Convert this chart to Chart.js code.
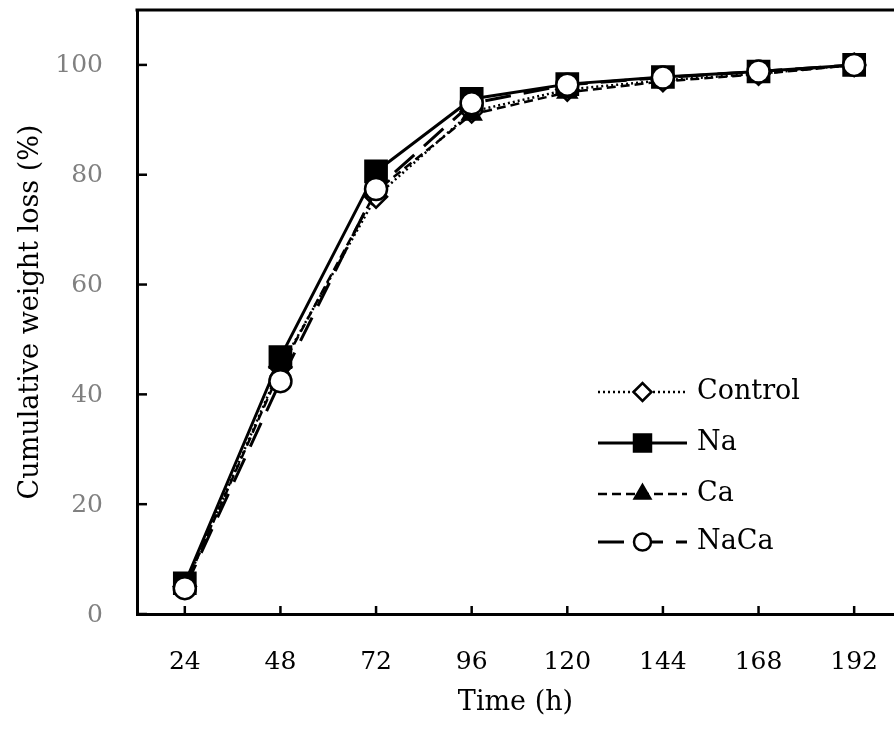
<!DOCTYPE html>
<html><head><meta charset="utf-8">
<script src="https://cdn.jsdelivr.net/npm/chart.js@4.4.1/dist/chart.umd.min.js"></script>
<style>html,body{margin:0;padding:0;background:#fff;overflow:hidden}canvas{display:block}</style>
</head><body>
<canvas id="c" width="894" height="729"></canvas>
<script>
const timeTicks = [24, 48, 72, 96, 120, 144, 168, 192];
const yTicks = [0, 20, 40, 60, 80, 100];
const seriesNames = ['Control', 'Na', 'Ca', 'NaCa'];
const control = [5.0, 45.0, 76.0, 91.5, 95.5, 97.2, 98.4, 100];
const na      = [5.6, 46.8, 80.6, 93.8, 96.5, 97.8, 98.8, 100];
const ca      = [5.0, 44.5, 77.0, 91.0, 95.0, 97.0, 98.3, 100];
const naca    = [4.7, 42.4, 77.4, 93.0, 96.4, 97.7, 98.8, 100];
const xTitle = 'Time (h)';
const yTitle = 'Cumulative weight loss (%)';

const FONT = 'DejaVu Serif';
const styles = [
  {pointStyle: 'rectRot', fill: '#fff', radius: 11, lradius: 9, dash: [2, 3], lw: 2.5, order: 4},
  {pointStyle: 'rect', fill: '#000', radius: 15, lradius: 12, dash: [], lw: 3, order: 3},
  {pointStyle: 'triangle', fill: '#000', radius: 10.5, lradius: 9, dash: [9, 5], lw: 2.5, order: 2},
  {pointStyle: 'circle', fill: '#fff', radius: 11, lradius: 8.5, dash: [26, 13], lw: 3, order: 1}
];
const allSeries = [control, na, ca, naca];

const datasets = allSeries.map((arr, i) => ({
  label: seriesNames[i],
  data: arr.map((v, j) => ({x: timeTicks[j], y: v})),
  borderColor: '#000',
  borderWidth: styles[i].lw,
  borderDash: styles[i].dash,
  pointStyle: styles[i].pointStyle,
  pointRadius: styles[i].radius,
  pointHoverRadius: styles[i].radius,
  pointBackgroundColor: styles[i].fill,
  pointBorderColor: '#000',
  pointBorderWidth: 2.5,
  tension: 0,
  fill: false,
  clip: false,
  order: styles[i].order
}));

const framePlugin = {
  id: 'frame',
  beforeDatasetsDraw(chart) {
    const {ctx, chartArea: a, scales: {x, y}} = chart;
    ctx.save();
    ctx.strokeStyle = '#000';
    ctx.lineWidth = 3;
    ctx.beginPath();
    ctx.moveTo(a.left - 1.5, a.top);
    ctx.lineTo(a.right + 2, a.top);
    ctx.stroke();
    ctx.lineWidth = 2.5;
    yTicks.forEach(v => {
      const py = y.getPixelForValue(v);
      ctx.beginPath(); ctx.moveTo(a.left, py); ctx.lineTo(a.left + 10, py); ctx.stroke();
    });
    timeTicks.forEach(v => {
      const px = x.getPixelForValue(v);
      ctx.beginPath(); ctx.moveTo(px, a.bottom); ctx.lineTo(px, a.bottom - 8); ctx.stroke();
    });
    // tick labels, positioned by the scales
    ctx.font = '25px "' + FONT + '"';
    ctx.textBaseline = 'middle';
    ctx.fillStyle = '#000';
    ctx.textAlign = 'center';
    timeTicks.forEach(v => {
      ctx.fillText(String(v), x.getPixelForValue(v), a.bottom + 48);
    });
    ctx.fillStyle = '#808080';
    ctx.textAlign = 'right';
    yTicks.forEach(v => {
      ctx.fillText(String(v), a.left - 34, y.getPixelForValue(v) + 1);
    });
    ctx.restore();
  }
};

const legendPlugin = {
  id: 'customLegend',
  afterDraw(chart) {
    const {ctx} = chart;
    const rows = [392, 443, 494, 542];
    const x0 = 598, x1 = 687, tx = 697;
    ctx.save();
    chart.data.datasets.forEach((ds, i) => {
      const st = styles[i];
      const yy = rows[i];
      ctx.strokeStyle = '#000';
      ctx.lineWidth = st.lw;
      ctx.setLineDash(st.dash);
      ctx.beginPath(); ctx.moveTo(x0, yy); ctx.lineTo(x1, yy); ctx.stroke();
      ctx.setLineDash([]);
      ctx.fillStyle = st.fill;
      ctx.strokeStyle = '#000';
      ctx.lineWidth = 2.5;
      Chart.helpers.drawPoint(ctx, {pointStyle: st.pointStyle, radius: st.lradius, borderWidth: 2.5, rotation: 0}, (x0 + x1) / 2, yy);
      ctx.fillStyle = '#000';
      ctx.font = '27px "' + FONT + '"';
      ctx.textAlign = 'left';
      ctx.textBaseline = 'middle';
      ctx.fillText(ds.label, tx, yy);
    });
    ctx.restore();
  }
};

new Chart(document.getElementById('c'), {
  type: 'line',
  data: {datasets},
  options: {
    responsive: false,
    animation: false,
    events: [],
    layout: {autoPadding: false, padding: {top: 10, left: 0, right: 0, bottom: 0}},
    plugins: {legend: {display: false}, tooltip: {enabled: false}},
    scales: {
      x: {
        type: 'linear',
        min: 12, max: 202,
        grid: {display: false, drawTicks: false},
        border: {display: true, color: '#000', width: 3},
        afterBuildTicks: s => { s.ticks = timeTicks.map(v => ({value: v})); },
        afterFit: s => { s.height = 115; s.paddingLeft = 0; s.paddingRight = 0; },
        ticks: {display: false},
        title: {display: true, text: xTitle, color: '#000', font: {family: FONT, size: 27}, padding: {top: 0, bottom: 10}}
      },
      y: {
        type: 'linear',
        min: 0, max: 110,
        grid: {display: false, drawTicks: false},
        border: {display: true, color: '#000', width: 3},
        afterBuildTicks: s => { s.ticks = yTicks.map(v => ({value: v})); },
        afterFit: s => { s.width = 137; s.paddingTop = 0; s.paddingBottom = 0; },
        ticks: {display: false},
        title: {display: true, text: yTitle, color: '#000', font: {family: FONT, size: 27}, padding: {top: 15, bottom: 0}}
      }
    }
  },
  plugins: [framePlugin, legendPlugin]
});
</script>
</body></html>
